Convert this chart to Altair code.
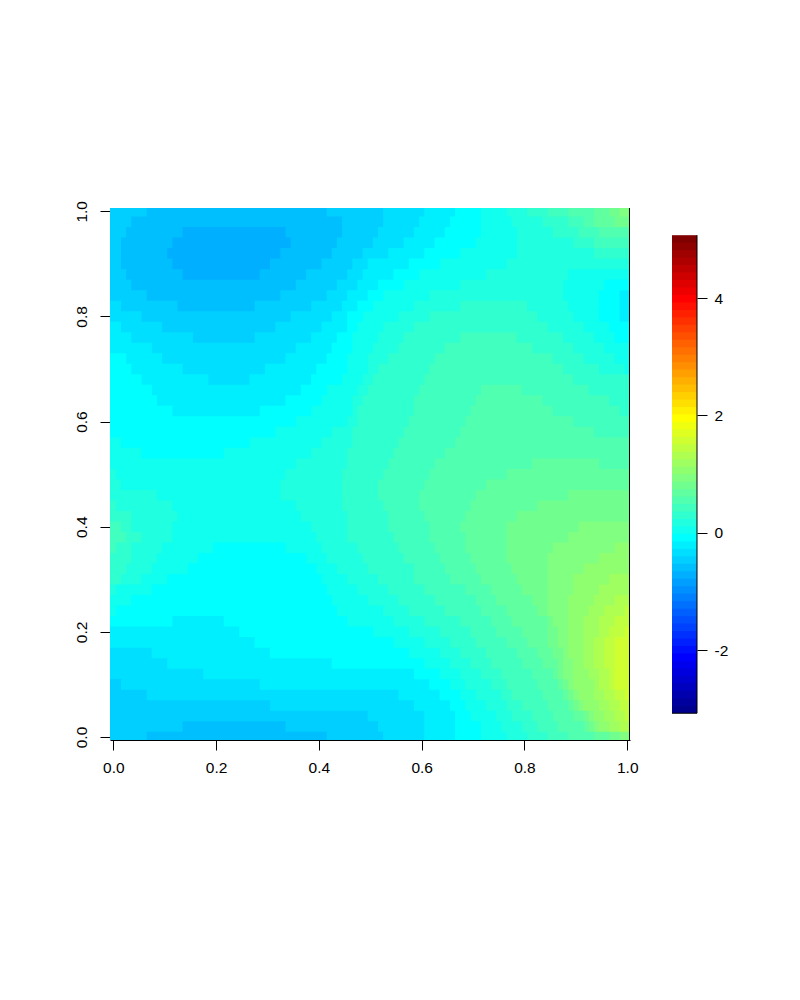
import altair as alt
import pandas as pd

# Colour bands of the field: letter -> index into the 64-colour palette
LETTERS = "abcdefghijklmnopqrs"
FIRST_BAND = 18
PALETTE = ["#00008F","#00009F","#0000AF","#0000BF","#0000CF","#0000DF","#0000EF","#0000FF",
           "#0010FF","#0020FF","#0030FF","#0040FF","#0050FF","#0060FF","#0070FF","#0080FF",
           "#008FFF","#009FFF","#00AFFF","#00BFFF","#00CFFF","#00DFFF","#00EFFF","#00FFFF",
           "#10FFEF","#20FFDF","#30FFCF","#40FFBF","#50FFAF","#60FF9F","#70FF8F","#80FF80",
           "#8FFF70","#9FFF60","#AFFF50","#BFFF40","#CFFF30","#DFFF20","#EFFF10","#FFFF00",
           "#FFEF00","#FFDF00","#FFCF00","#FFBF00","#FFAF00","#FF9F00","#FF8F00","#FF8000",
           "#FF7000","#FF6000","#FF5000","#FF4000","#FF3000","#FF2000","#FF1000","#FF0000",
           "#EF0000","#DF0000","#CF0000","#BF0000","#AF0000","#9F0000","#8F0000","#800000"]
Z_MIN = -3.07
Z_MAX = 5.07

# Field, row y = 100, 98, ... 0 (in hundredths).
# Each token: band letter + column (hundredths of x) where that band stops.
ROWS = [
"c7 b42 c53 d61 e67 f72 g77 h81 i85 j89 k94 l97 m99 n101",
"c4 b45 c53 d60 e66 f72 g78 h84 i89 j92 k94 l98 m101",
"c3 b14 a34 b45 c52 d59 e65 f72 g79 h86 i91 j95 k101",
"c2 b12 a35 b44 c51 d57 e63 f71 g79 h90 i94 j101",
"c2 b11 a33 b43 c49 d54 e61 f68 g79 h94 i101",
"c2 b12 a31 b41 c47 d50 e58 f64 g77 h101",
"c3 b14 a29 b38 c46 d49 e55 f60 g73 h89 g101",
"c4 b36 c44 d48 e52 f57 g68 h88 g96 f101",
"c7 b33 c42 d46 e50 f53 g62 h88 g95 f99 e101",
"d2 c13 b28 c39 d45 e48 f51 g59 h68 i81 h89 g95 f99 e101",
"d6 c35 d43 e46 f49 g56 h62 i83 h90 g95 f99 e101",
"e2 d10 c32 d41 e46 f48 g53 h59 i85 h92 g97 f101",
"e4 d16 c28 d39 e44 f47 g52 h57 i68 j79 i88 h94 g98 f101",
"e8 d36 e43 f47 g51 h56 i65 j82 i90 h96 g101",
"f3 e10 d34 e42 f46 g50 h54 i63 j86 i92 h98 g101",
"f4 e14 d30 e40 f46 g50 h52 i62 j88 i95 h100 g101",
"f6 e19 d27 e39 f45 g49 h51 i61 j90 i101",
"f8 e37 f42 g48 h50 i60 j72 k80 j93 i101",
"f9 e34 f41 g47 h49 i59 j71 k84 j97 i101",
"f12 e29 f39 g47 h48 i59 j70 k86 j99 i101",
"f36 g46 h48 i58 j69 k90 j101",
"f32 g43 h47 i57 j68 k94 j101",
"g2 f27 g41 h47 i56 j67 k101",
"g6 f22 g39 h46 i55 j65 k101",
"g36 h46 i54 j63 k82 l95 k101",
"h1 g34 h45 i53 j62 k77 l101",
"h2 g33 h45 i52 j61 k73 l101",
"h9 g33 h45 i52 j60 k71 l89 m101",
"i1 h12 g36 h45 i53 j60 k70 l83 m101",
"i4 h13 g37 h46 i54 j61 k69 l79 m101",
"j2 i4 h12 g39 h46 i54 j62 k68 l77 m91 n101",
"j3 i6 h12 g40 h46 i55 j62 k69 l77 m89 n101",
"j1 i4 h10 g20 f34 g41 h48 i56 j63 k69 l77 m86 n98 o101",
"i4 h9 g17 f38 g42 h49 i57 j64 k70 l77 m85 n95 o101",
"i3 h8 g15 f40 g44 h50 i59 j65 k71 l78 m85 n92 o101",
"i2 h6 g11 f41 g46 h52 i59 j66 k72 l79 m85 n90 o97 p101",
"h1 g8 f42 g48 h54 i61 j69 k74 l80 m85 n90 o95 p101",
"g4 f43 g50 h56 i63 j71 k75 l82 m85 n89 o94 p98 q101",
"g1 f44 g53 h58 i65 j72 k77 l83 m85 n89 o93 p96 q100 r101",
"f12 e22 f46 g55 h61 i68 j74 k78 l85 m86 n89 o92 p95 q98 r101",
"e25 f51 g58 h64 i70 j75 k80 l85 m87 n89 o92 p95 q97 r100 s101",
"e28 f55 g61 h66 i71 j77 k81 l85 m87 n89 o92 p94 q96 r98 s101",
"d8 e31 f58 g64 h68 i73 j79 k83 l86 m88 n89 o92 p94 q96 r98 s101",
"d11 e43 f61 g66 h70 i74 j80 k84 l87 m88 n90 o92 p94 q96 r98 s101",
"d18 e59 f64 g68 h72 i76 j82 k86 l87 m88 n90 o93 p95 q97 r98 s101",
"c2 d29 e62 f66 g69 h74 i77 j83 k87 l88 m89 n90 o94 p95 q97 r98 s101",
"c7 d56 e64 f68 g71 h76 i78 j84 k88 l89 m90 n91 o94 p96 q98 r100 s101",
"c31 d59 e66 f69 g73 h77 i80 j85 k89 l90 m91 n92 o95 p97 q99 r101",
"c50 d61 e67 f70 g75 h78 i82 j86 k90 l92 m93 n94 o96 p98 q100 r101",
"c14 b34 c52 d61 e67 f72 g76 h80 i83 j87 k92 l93 m94 n95 o97 p99 q101",
"c7 b42 c53 d61 e67 f72 g77 h81 i85 j89 k94 l97 m99 n101",
]

X_TICKS = [0.0, 0.2, 0.4, 0.6, 0.8, 1.0]
Y_TICKS = [0.0, 0.2, 0.4, 0.6, 0.8, 1.0]
BAR_TICKS = [-2, 0, 2, 4]
X_DOMAIN = [-0.0064, 1.0053]
Y_DOMAIN = [-0.0057, 1.0063]
BAR_DOMAIN = [-3.526, 5.533]
FRAME_X = 1.0043

# Each mark is painted slightly past its neighbour, which paints over the excess: no seams.
LAP = 0.002

records = []
for r, row in enumerate(ROWS):
    yc = (100 - 2 * r) / 100
    start = 0
    for tok in row.split():
        band = FIRST_BAND + LETTERS.index(tok[0])
        end = int(tok[1:])
        if end > start:
            x0 = (start - 0.5) / 100 if start > 0 else -0.01
            x1 = (end - 0.5) / 100 + LAP if end < 101 else FRAME_X
            records.append(dict(x0=x0, x1=x1, y0=yc - 0.01 - LAP, y1=yc + 0.01, band=band))
        start = max(start, end)
field = pd.DataFrame(records)

step = (Z_MAX - Z_MIN) / 64
bar = pd.DataFrame([dict(lo=Z_MIN + k * step,
                         hi=Z_MIN + (k + 1) * step + (0.02 if k < 63 else 0),
                         band=k, a=0, b=1)
                    for k in range(64)])

FONT = "Liberation Sans"
color = alt.Scale(domain=list(range(64)), range=PALETTE)

heat = alt.Chart(field).mark_rect(clip=True).encode(
    x=alt.X("x0:Q", scale=alt.Scale(domain=X_DOMAIN, nice=False, zero=False),
            axis=alt.Axis(values=X_TICKS, format=".1f", title=None, grid=False, tickSize=10,
                          tickColor="black", domainColor="black", labelColor="black",
                          labelFont=FONT, labelFontSize=15.5, labelPadding=10,
                          labelFlush=False, labelOverlap=False)),
    x2="x1:Q",
    y=alt.Y("y0:Q", scale=alt.Scale(domain=Y_DOMAIN, nice=False, zero=False),
            axis=alt.Axis(values=Y_TICKS, format=".1f", title=None, grid=False, tickSize=10,
                          tickColor="black", domain=False, labelColor="black",
                          labelFont=FONT, labelFontSize=15.5, labelPadding=11, labelAngle=270,
                          labelAlign="center", labelBaseline="bottom",
                          labelFlush=False, labelOverlap=False)),
    y2="y1:Q",
    color=alt.Color("band:N", scale=color, legend=None),
)
edge = alt.Chart(pd.DataFrame({"x": [FRAME_X], "y0": [Y_DOMAIN[0]], "y1": [Y_DOMAIN[1]]})).mark_rule(
    color="black", strokeWidth=1).encode(x="x:Q", y="y0:Q", y2="y1:Q")
left = alt.layer(heat, edge).properties(width=520, height=532)

bands = alt.Chart(bar).mark_rect().encode(
    x=alt.X("a:Q", scale=alt.Scale(domain=[0, 1], nice=False, zero=False), axis=None),
    x2="b:Q",
    y=alt.Y("lo:Q", scale=alt.Scale(domain=BAR_DOMAIN, nice=False, zero=False),
            axis=alt.Axis(orient="right", values=BAR_TICKS, title=None, grid=False, tickSize=10,
                          tickColor="black", domain=False, labelColor="black",
                          labelExpr="'' + datum.value", labelFont=FONT, labelFontSize=15.5,
                          labelPadding=7, labelFlush=False, labelOverlap=False)),
    y2="hi:Q",
    color=alt.Color("band:N", scale=color, legend=None),
)
bar_right = alt.Chart(pd.DataFrame({"x": [1], "y0": [Z_MIN], "y1": [Z_MAX]})).mark_rule(
    color="black").encode(x="x:Q", y="y0:Q", y2="y1:Q")
bar_bottom = alt.Chart(pd.DataFrame({"x0": [0], "x1": [1], "y": [Z_MIN]})).mark_rule(
    color="black").encode(x="x0:Q", x2="x1:Q", y="y:Q")
right = alt.layer(bands, bar_right, bar_bottom).properties(width=25, height=532)

chart = alt.hconcat(left, right, spacing=32).resolve_scale(
    x="independent", y="independent"
).properties(
    padding={"left": 66, "top": 192, "right": 5, "bottom": 5},
    background="white",
).configure_view(stroke=None)

chart.save("out.html", embed_options={"renderer": "svg", "actions": False})
